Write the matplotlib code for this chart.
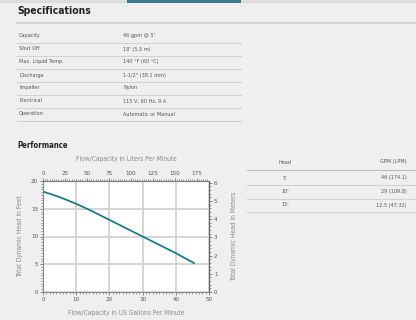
import matplotlib
matplotlib.use('Agg')
import matplotlib.pyplot as plt
from matplotlib.ticker import MultipleLocator
import numpy as np

plt.rcParams['font.family'] = ['DejaVu Sans']
plt.rcParams['font.stretch'] = 'condensed'

# ── Data ──────────────────────────────────────────────────────────────────────
spec_names = ['Capacity', 'Shut Off', 'Max. Liquid Temp.', 'Discharge',
              'Impeller', 'Electrical', 'Operation']
spec_values = ['46 gpm @ 5\'', '18\' (5.5 m)', '140 °F (60 °C)', '1-1/2" (38.1 mm)',
               'Nylon', '115 V, 60 Hz, 9 A', 'Automatic or Manual']

perf_head = ["5'", "10'", "15'"]
perf_gpm = ['46 (174.1)', '29 (109.8)', '12.5 (47.32)']

flow_gpm = [0, 5, 10, 15, 20, 25, 30, 35, 40, 45.5]
head_ft = [18.1, 17.1, 15.9, 14.5, 13.0, 11.5, 10.0, 8.5, 7.0, 5.2]

GAL_TO_L = 3.785
FT_TO_M = 0.3048

BG = '#efefef'
TEAL = '#1b7b8a'
LABEL = '#8a8a8a'
TXT = '#555555'
LINE = '#d2d2d2'

W, H = 416, 320
fig = plt.figure(figsize=(W / 100, H / 100), dpi=100, facecolor=BG)

# page overlay in pixel coordinates
pg = fig.add_axes([0, 0, 1, 1])
pg.set_xlim(0, W)
pg.set_ylim(H, 0)
pg.axis('off')
pg.set_facecolor(BG)

# top strip with teal tab
pg.add_patch(plt.Rectangle((0, 0), W, 2.5, color='#dcdcdc', lw=0))
pg.add_patch(plt.Rectangle((127, 0), 114, 2.5, color='#3b7a88', lw=0))

pg.text(17, 10.5, 'Specifications', fontsize=7.5, fontweight='bold',
        color='#222222', va='center', ha='left')
pg.plot([17, W], [23, 23], color=LINE, lw=1.3)

row_y0, row_dy = 36, 13
for i, (n, v) in enumerate(zip(spec_names, spec_values)):
    y = row_y0 + i * row_dy
    pg.text(19, y, n, fontsize=4.0, color=TXT, va='center', ha='left')
    pg.text(123, y, v, fontsize=4.0, color=TXT, va='center', ha='left')
    pg.plot([17, 241], [y + 6.5, y + 6.5], color=LINE, lw=0.8)

pg.text(17, 146, 'Performance', fontsize=5.6, fontweight='bold',
        color='#222222', va='center', ha='left')

# right performance table
pg.text(285, 162, 'Head', fontsize=4.0, color=TXT, va='center', ha='center')
pg.text(407, 162, 'GPM (LPM)', fontsize=4.0, color=TXT, va='center', ha='right')
pg.plot([247, W], [170, 170], color='#bdbdbd', lw=0.8)
for i, (h, g) in enumerate(zip(perf_head, perf_gpm)):
    y = 178 + i * 13.5
    pg.text(285, y, h, fontsize=4.0, color=TXT, va='center', ha='center')
    pg.text(407, y, g, fontsize=4.0, color=TXT, va='center', ha='right')
    pg.plot([247, W], [y + 7, y + 7], color=LINE, lw=0.8)

# ── Chart ─────────────────────────────────────────────────────────────────────
x0, x1, y0, y1 = 43, 209, 181, 292
ax = fig.add_axes([x0 / W, 1 - y1 / H, (x1 - x0) / W, (y1 - y0) / H])
ax.set_facecolor('white')
ax.plot(flow_gpm, head_ft, color=TEAL, lw=1.3)
ax.set_xlim(0, 50)
ax.set_ylim(0, 20)
ax.xaxis.set_major_locator(MultipleLocator(10))
ax.xaxis.set_minor_locator(MultipleLocator(1))
ax.yaxis.set_major_locator(MultipleLocator(5))
ax.yaxis.set_minor_locator(MultipleLocator(0.5))
ax.grid(True, which='major', color='#cfcfcf', lw=1.2)
for s in ax.spines.values():
    s.set_color('#777777')
    s.set_linewidth(0.6)
ax.tick_params(which='both', labelsize=4.5, colors='#777777', labelcolor=TXT,
               direction='out', pad=1)
ax.tick_params(which='major', length=2.5, width=0.6)
ax.tick_params(which='minor', length=1.2, width=0.5)
ax.set_xlabel('Flow/Capacity in US Gallons Per Minute', fontsize=4.8,
              color=LABEL, labelpad=6)
ax.set_ylabel('Total Dynamic Head in Feet', fontsize=4.8, color=LABEL, labelpad=6)

top = ax.secondary_xaxis('top', functions=(lambda g: g * GAL_TO_L, lambda l: l / GAL_TO_L))
top.xaxis.set_major_locator(MultipleLocator(25))
top.xaxis.set_minor_locator(MultipleLocator(2.5))
top.tick_params(which='both', labelsize=4.5, colors='#777777', labelcolor=TXT, pad=1)
top.tick_params(which='major', length=2.5, width=0.6)
top.tick_params(which='minor', length=1.2, width=0.5)
top.set_xlabel('Flow/Capacity in Liters Per Minute', fontsize=4.8,
               color=LABEL, labelpad=7)

right = ax.secondary_yaxis('right', functions=(lambda f: f * FT_TO_M, lambda m: m / FT_TO_M))
right.yaxis.set_major_locator(MultipleLocator(1))
right.yaxis.set_minor_locator(MultipleLocator(0.2))
right.tick_params(which='both', labelsize=4.5, colors='#777777', labelcolor=TXT, pad=1)
right.tick_params(which='major', length=2.5, width=0.6)
right.tick_params(which='minor', length=1.2, width=0.5)
right.set_ylabel('Total Dynamic Head in Meters', fontsize=4.8, color=LABEL, labelpad=10)

fig.savefig('out.png', dpi=100, facecolor=BG)
